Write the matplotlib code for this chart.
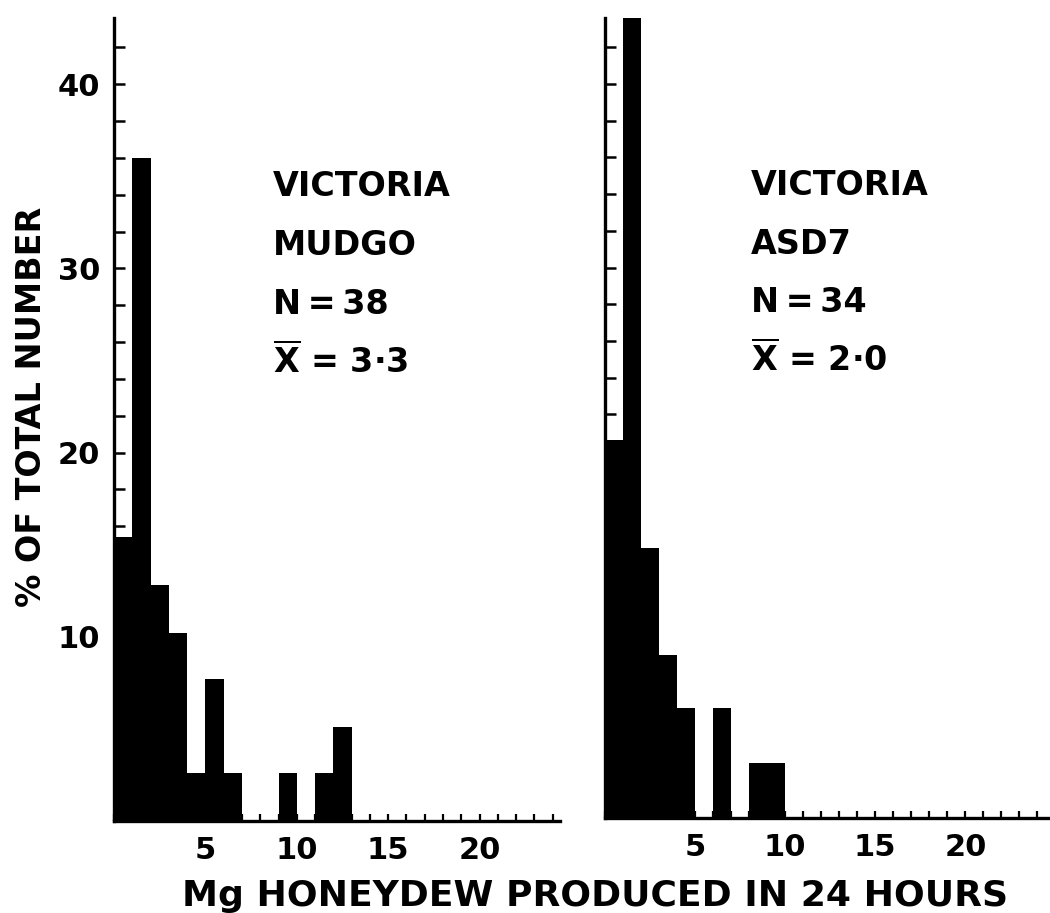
import matplotlib.pyplot as plt
from matplotlib.ticker import MultipleLocator

plt.rcParams['font.family'] = ['DejaVu Sans']
plt.rcParams['font.weight'] = 'bold'

# histogram bins (mg honeydew per 24 h), left edges, width 1
bin_left = list(range(13))
mudgo_pct = [15.4, 36.0, 12.8, 10.2, 2.6, 7.7, 2.6, 0, 0, 2.6, 0, 2.6, 5.1]
asd7_pct = [20.6, 46.0, 14.7, 8.9, 6.0, 0, 6.0, 0, 3.0, 3.0, 0, 0, 0]

x_ticks = [5, 10, 15, 20]
y_ticks = [10, 20, 30, 40]

mudgo_text = ["VICTORIA", "MUDGO", "N\u2009=\u200938", r"$\overline{\mathbf{X}}$ = 3·3"]
asd7_text = ["VICTORIA", "ASD7", "N\u2009=\u200934", r"$\overline{\mathbf{X}}$ = 2·0"]

W, H = 1050, 913
fig = plt.figure(figsize=(W / 100, H / 100), dpi=100)

def px_box(x0, x1, y_bottom, y_top):
    return [x0 / W, 1 - y_bottom / H, (x1 - x0) / W, (y_bottom - y_top) / H]

ax1 = fig.add_axes(px_box(114, 560, 821, 18))
ax2 = fig.add_axes(px_box(605, 1050, 818, 18))

panels = [(ax1, mudgo_pct, 24.4, mudgo_text, 8.7),
          (ax2, asd7_pct, 24.7, asd7_text, 8.1)]
for ax, pct, xmax, lines, tx in panels:
    ax.bar(bin_left, pct, width=1.0, align='edge', color='black', linewidth=0)
    ax.set_xlim(0, xmax)
    ax.set_ylim(0, 43.6)
    for s in ['top', 'right']:
        ax.spines[s].set_visible(False)
    for s in ['left', 'bottom']:
        ax.spines[s].set_linewidth(2.4)
    ax.set_xticks(x_ticks)
    ax.xaxis.set_minor_locator(MultipleLocator(1))
    ax.set_yticks(y_ticks)
    ax.yaxis.set_minor_locator(MultipleLocator(2))
    ax.tick_params(axis='x', which='both', direction='in', length=5, width=1.6,
                   pad=11, labelsize=22)
    ax.tick_params(axis='y', which='both', direction='in', length=8, width=1.8,
                   pad=10, labelsize=22)
    for i, t in enumerate(lines):
        ax.text(tx, 33.95 - 3.2 * i, t, fontsize=24, fontweight='bold',
                ha='left', va='baseline')

ax2.tick_params(axis='y', which='both', labelleft=False)

fig.text(32 / W, 1 - 407 / H, "% OF TOTAL NUMBER", rotation=90, ha='center',
         va='center', fontsize=24, fontweight='bold')
fig.text(595 / W, 1 - 906 / H, "Mg HONEYDEW PRODUCED IN 24 HOURS", ha='center',
         va='baseline', fontsize=26, fontweight='bold')

fig.savefig('out.png', dpi=100, facecolor='white')
